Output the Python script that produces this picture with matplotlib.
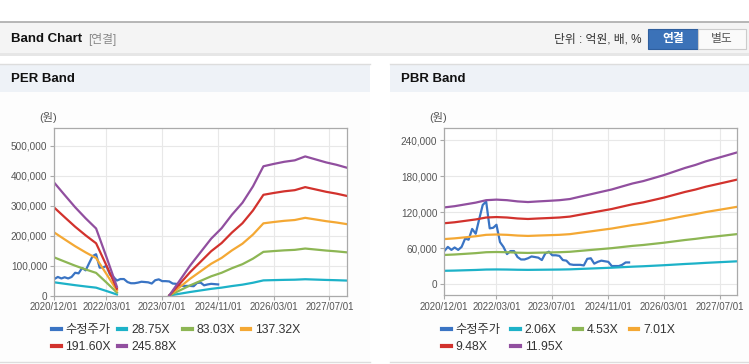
import numpy as np
import pandas as pd
import matplotlib
matplotlib.use('Agg')
import matplotlib.pyplot as plt
from matplotlib.patches import Rectangle
from matplotlib.ticker import FuncFormatter

plt.rcParams['font.family'] = ['Liberation Sans', 'Noto Sans CJK KR', 'DejaVu Sans']

# monthly adjusted price (won), 2020/12 .. 2025/05
price = [55000, 62000, 57000, 61000, 57000, 62000, 76000, 74000, 92000, 84000,
         108000, 132000, 138000, 93000, 94000, 99000, 70000, 62000, 50000, 55000,
         55000, 45000, 41000, 41000, 43000, 46000, 45000, 44000, 40000, 51000,
         54000, 48000, 48000, 47000, 40000, 39000, 33000, 32000, 32000, 32000,
         31000, 42000, 43000, 34000, 37000, 39000, 38000, 37000, 30000, 30000,
         30000, 32000, 36000, 36000]
per_price_end = '2024-11-01'

# quarterly EPS / BPS (won), 2020/12 .. 2027/12
nan = np.nan
eps = [1533, 1367, 1200, 1049, 911, 525, 118, nan, nan, nan, nan,
       0, 203, 407, 590, 773, 915, 1098, 1261, 1484, 1757, 1789,
       1818, 1838, 1891, 1851, 1810, 1777, 1737]
bps = [10710, 10880, 11130, 11380, 11720, 11800, 11720, 11550, 11460, 11550,
       11630, 11720, 11880, 12220, 12550, 12890, 13220, 13640, 14060, 14390,
       14810, 15230, 15730, 16230, 16650, 17150, 17570, 17990, 18410]

per_mult = [28.75, 83.03, 137.32, 191.60, 245.88]
pbr_mult = [2.06, 4.53, 7.01, 9.48, 11.95]
per_labels = ['28.75X', '83.03X', '137.32X', '191.60X', '245.88X']
pbr_labels = ['2.06X', '4.53X', '7.01X', '9.48X', '11.95X']
xtick_dates = ['2020-12-01', '2022-03-01', '2023-07-01', '2024-11-01', '2026-03-01', '2027-07-01']

price_color = '#3a74c4'
band_colors = ['#1db2c8', '#8db654', '#f4a834', '#d2322d', '#914f9f']

W, H = 749, 364
fig = plt.figure(figsize=(W / 100, H / 100), dpi=100)


def px(x, y):
    return x / W, 1 - y / H


def box(x0, y0, x1, y1, **kw):
    fig.patches.append(Rectangle((x0 / W, 1 - y1 / H), (x1 - x0) / W, (y1 - y0) / H,
                                 transform=fig.transFigure, zorder=-5, **kw))


def hline(x0, x1, y, **kw):
    fig.add_artist(plt.Line2D([x0 / W, x1 / W], [1 - y / H] * 2, transform=fig.transFigure, **kw))


def ftext(x, y, s, **kw):
    fig.text(*px(x, y), s, va='center', **kw)


# page header
box(0, 22, W, 53, facecolor='#f4f4f4', edgecolor='none')
box(0, 53, W, 56, facecolor='#e6e6e6', edgecolor='none')
hline(0, W, 22, color='#aaaaaa', lw=1.2)
ftext(11, 39, 'Band Chart', fontsize=9.5, fontweight='bold', color='#111111')
ftext(88, 39, '[연결]', fontsize=8.5, color='#888888')
ftext(641, 39, '단위 : 억원, 배, %', fontsize=8.5, color='#333333', ha='right')
box(648, 29, 698, 49, facecolor='#3b72b8', edgecolor='#2f5f9e', lw=0.8)
ftext(673, 39, '연결', fontsize=8.5, fontweight='bold', color='white', ha='center')
box(698, 29, 746, 49, facecolor='#fafafa', edgecolor='#cccccc', lw=0.8)
ftext(722, 39, '별도', fontsize=8.5, color='#555555', ha='center')

dates = pd.date_range('2020-12-01', periods=len(price), freq='MS')
band_dates = pd.date_range('2020-12-01', periods=len(eps), freq='3MS')
ticks = pd.to_datetime(xtick_dates)


def panel(x0, x1, title, rect, base, mults, labels, ylim, yticks, price_end, colsp):
    box(x0, 64, x1, 362, facecolor='#fdfdfd', edgecolor='none')
    box(x0, 64, x1, 92, facecolor='#eef2f7', edgecolor='none')
    hline(x0, x1, 64, color='#dddddd', lw=1)
    hline(x0, x1, 362, color='#dddddd', lw=1)
    ftext(x0 + 11, 79, title, fontsize=9.5, fontweight='bold', color='#111111')
    ftext(rect[0] * W - 15, 118, '(원)', fontsize=8, color='#555555')

    ax = fig.add_axes(rect)
    ax.set_facecolor('white')
    s = pd.Series(price, index=dates)
    if price_end is not None:
        s = s[:price_end]
    ax.plot(s.index, s.values, color=price_color, lw=1.6, label='수정주가')
    base = np.array(base, dtype=float)
    for m, lab, c in zip(mults, labels, band_colors):
        ax.plot(band_dates, base * m, color=c, lw=1.6, label=lab)

    ax.set_xlim(band_dates[0], band_dates[-1])
    ax.set_ylim(*ylim)
    ax.set_yticks(yticks)
    ax.yaxis.set_major_formatter(FuncFormatter(lambda v, p: f'{v:,.0f}'))
    ax.set_xticks(ticks)
    ax.set_xticklabels([t.strftime('%Y/%m/%d') for t in ticks])
    ax.grid(True, color='#e8e8e8', lw=0.8)
    ax.set_axisbelow(True)
    for sp in ax.spines.values():
        sp.set_color('#aaaaaa')
        sp.set_linewidth(0.9)
    ax.tick_params(axis='both', colors='#aaaaaa', length=3, width=0.8, labelcolor='#555555')
    ax.tick_params(axis='x', labelsize=7, pad=2)
    ax.tick_params(axis='y', labelsize=7.2, pad=2)

    # legend filled row by row (matplotlib fills columns first)
    h, l = ax.get_legend_handles_labels()
    order = [0, 4, 1, 5, 2, 3]
    leg = ax.legend([h[i] for i in order], [l[i] for i in order], ncol=4, loc='upper left',
                    bbox_to_anchor=px(x0 + 52, 324), bbox_transform=fig.transFigure,
                    frameon=False, fontsize=8.8, handlelength=0.7, handletextpad=0.4,
                    columnspacing=colsp, labelspacing=0.45, borderpad=0, borderaxespad=0)
    for t in leg.get_texts():
        t.set_color('#333333')
    for ln in leg.get_lines():
        ln.set_linewidth(3)
    return ax


panel(0, 370, 'PER Band', [54.3 / W, (H - 295.5) / H, 292.7 / W, 167.5 / H],
      eps, per_mult, per_labels, (0, 560000), range(0, 500001, 100000), per_price_end, 0.55)
panel(390, W, 'PBR Band', [444.3 / W, (H - 295.3) / H, 293 / W, 167 / H],
      bps, pbr_mult, pbr_labels, (-18900, 260200), range(0, 240001, 60000), None, 0.9)

fig.savefig('out.png', dpi=100)
